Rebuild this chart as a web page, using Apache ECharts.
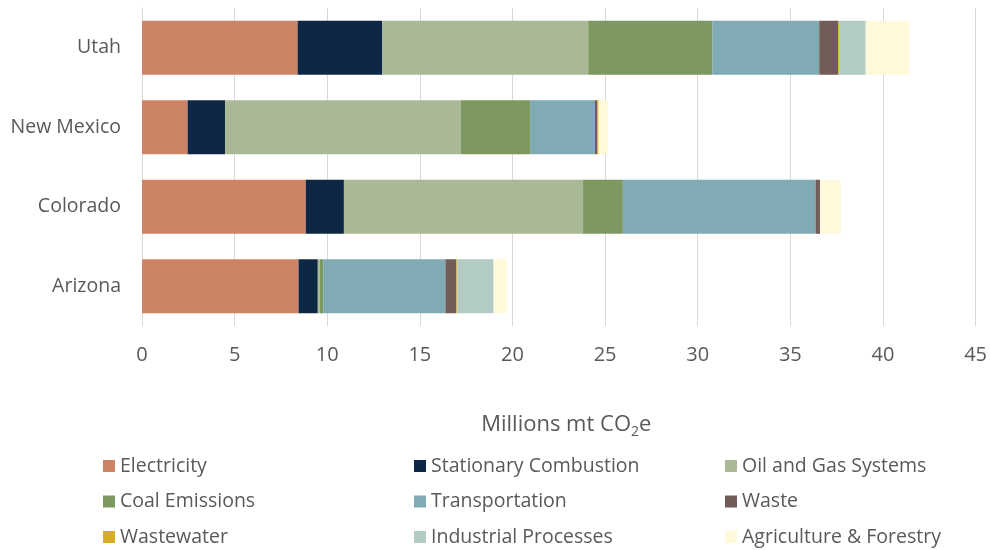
<!DOCTYPE html>
<html><head><meta charset="utf-8">
<script src="https://cdn.jsdelivr.net/npm/echarts@6/dist/echarts.min.js"></script>
<style>html,body{margin:0;padding:0;background:#fff}#c{width:990px;height:550px}</style>
</head><body><div id="c"></div>
<script>
const states = ['Arizona', 'Colorado', 'New Mexico', 'Utah'];
const electricity = [8.45, 8.84, 2.46, 8.40];
const stationary = [1.04, 2.06, 2.02, 4.57];
const oilGas = [0.11, 12.91, 12.74, 11.12];
const coal = [0.18, 2.15, 3.73, 6.71];
const transportation = [6.60, 10.40, 3.50, 5.76];
const waste = [0.59, 0.24, 0.12, 1.02];
const wastewater = [0.05, 0.0, 0.08, 0.05];
const industrial = [1.96, 0.0, 0.0, 1.44];
const agriculture = [0.70, 1.13, 0.50, 2.33];
const xTicks = [0, 5, 10, 15, 20, 25, 30, 35, 40, 45];

const seriesDefs = [
  ['Electricity', electricity, '#CD8466'],
  ['Stationary Combustion', stationary, '#0E2744'],
  ['Oil and Gas Systems', oilGas, '#AAB995'],
  ['Coal Emissions', coal, '#7E9862'],
  ['Transportation', transportation, '#80ABB4'],
  ['Waste', waste, '#725C58'],
  ['Wastewater', wastewater, '#D5AE24'],
  ['Industrial Processes', industrial, '#B2CCC4'],
  ['Agriculture & Forestry', agriculture, '#FFF9D9']
];

const font = 'Open Sans';
const txt = '#595959';
const legendCols = [
  [['Electricity', 'Coal Emissions', 'Wastewater'], 103],
  [['Stationary Combustion', 'Transportation', 'Industrial Processes'], 414],
  [['Oil and Gas Systems', 'Waste', 'Agriculture & Forestry'], 725]
];

const chart = echarts.init(document.getElementById('c'));
chart.setOption({
  animation: false,
  backgroundColor: '#fff',
  grid: { left: 142, right: 12, top: 8, bottom: 224 },
  xAxis: {
    type: 'value', min: xTicks[0], max: xTicks[xTicks.length - 1], interval: 5,
    axisLine: { show: false }, axisTick: { show: false },
    splitLine: { lineStyle: { color: '#D9D9D9', width: 1 } },
    axisLabel: { color: txt, fontSize: 20, fontFamily: font, margin: 19 },
    name: '{a|Millions mt CO}{s|2}{a|e}',
    nameLocation: 'middle', nameGap: 85,
    nameTextStyle: {
      padding: [0, 0, 0, 15],
      rich: {
        a: { color: txt, fontSize: 22, fontFamily: font, lineHeight: 28 },
        s: { color: txt, fontSize: 14, fontFamily: font, lineHeight: 14, verticalAlign: 'bottom' }
      }
    }
  },
  yAxis: {
    type: 'category', data: states,
    axisLine: { show: true, lineStyle: { color: '#D9D9D9' } },
    axisTick: { show: false },
    axisLabel: { color: txt, fontSize: 19.5, fontFamily: font, margin: 21 }
  },
  legend: legendCols.map(([names, left]) => ({
    data: names, orient: 'vertical', left: left, top: 456, height: 120,
    padding: 0,
    itemWidth: 12, itemHeight: 12, itemGap: 15.5,
    icon: 'rect',
    textStyle: { color: txt, fontSize: 19.5, fontFamily: font, lineHeight: 20 }
  })),
  series: seriesDefs.map(([name, data, color]) => ({
    name: name, type: 'bar', stack: 'total', data: data,
    barCategoryGap: '32%',
    itemStyle: { color: color },
    emphasis: { disabled: true }
  }))
});
</script></body></html>
